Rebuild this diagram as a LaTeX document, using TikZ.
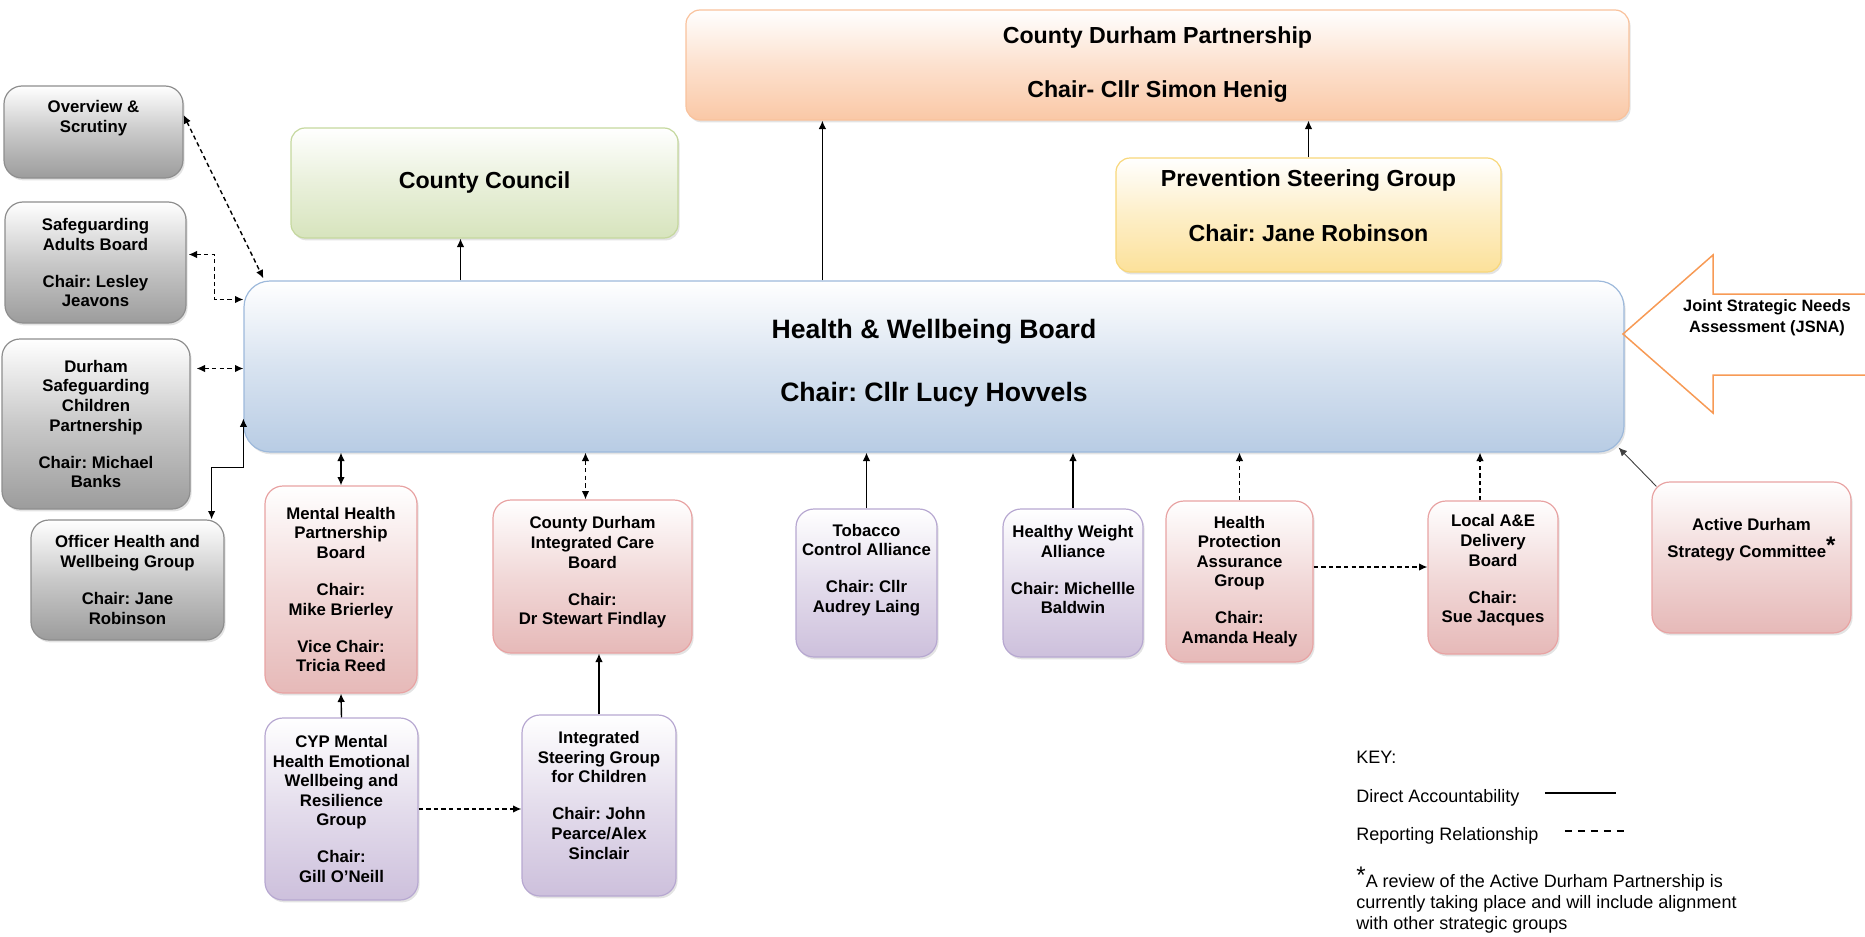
\documentclass[tikz,border=0pt]{standalone}
\usepackage{fontspec}
\setmainfont{Liberation Sans}
\frenchspacing
\usetikzlibrary{calc,arrows.meta,shadows}

\definecolor{greyline}{HTML}{8E8E8E}
\definecolor{greybot}{HTML}{9C9C9C}
\definecolor{pinkline}{HTML}{E8A3A3}
\definecolor{pinkbot}{HTML}{E6B9B8}
\definecolor{lilacline}{HTML}{B7A8D1}
\definecolor{lilacbot}{HTML}{CDC0DC}
\definecolor{blueline}{HTML}{9DB9DB}
\definecolor{bluebot}{HTML}{B8CCE4}
\definecolor{greenline}{HTML}{C5D89E}
\definecolor{greenbot}{HTML}{D7E4BD}
\definecolor{orangeline}{HTML}{F9C29C}
\definecolor{orangebot}{HTML}{FAC8A6}
\definecolor{yellowline}{HTML}{F8D77A}
\definecolor{yellowbot}{HTML}{FCE19A}
\definecolor{jsnaorange}{HTML}{F79A55}

\newcommand{\nl}{\\[8.7pt]}
\newcommand{\smallbold}{\fontsize{8.4}{9.8}\selectfont\bfseries}
\newcommand{\bigbold}{\fontsize{11.6}{14}\selectfont\bfseries}
\newcommand{\keytext}{\fontsize{9}{10.5}\selectfont}

\tikzset{
  box/.style={draw, line width=.6pt, rounded corners=9pt, align=center, inner sep=2pt,
    font=\smallbold, drop shadow={shadow xshift=.8pt, shadow yshift=-1.2pt, opacity=.22}},
  greybox/.style={box, draw=greyline, top color=white, bottom color=greybot, middle color=greybot!55!white},
  pinkbox/.style={box, draw=pinkline, top color=white, bottom color=pinkbot, middle color=pinkbot!55!white},
  lilacbox/.style={box, draw=lilacline, top color=white, bottom color=lilacbot, middle color=lilacbot!55!white},
  bluebox/.style={box, draw=blueline, top color=white, bottom color=bluebot, middle color=bluebot!55!white},
  greenbox/.style={box, draw=greenline, top color=white, bottom color=greenbot, middle color=greenbot!55!white},
  orangebox/.style={box, draw=orangeline, top color=white, bottom color=orangebot, middle color=orangebot!55!white},
  yellowbox/.style={box, draw=yellowline, top color=white, bottom color=yellowbot, middle color=yellowbot!55!white},
  lift/.style={text depth=#1},
  direct/.style={line width=.7pt, >={Latex[length=4.2pt,width=3.8pt]}},
  report/.style={direct, dash pattern=on 2.2pt off 1.6pt},
}

\begin{document}
\begin{tikzpicture}[x=0.5pt, y=-0.5pt]
\useasboundingbox (0,0) rectangle (1865,937);

% top row
\node (cdp) at (1157.5,65) [orangebox, minimum width=471.5pt, minimum height=55pt, rounded corners=7pt, font=\bigbold] {County Durham Partnership\\[13pt]Chair- Cllr Simon Henig};
\node (cc) at (484.5,183) [greenbox, minimum width=193.5pt, minimum height=55pt, rounded corners=7pt, font=\bigbold] {County Council};
\node (psg) at (1308.5,215) [yellowbox, minimum width=192.5pt, minimum height=57pt, rounded corners=7pt, font=\bigbold, lift=9.2pt] {Prevention Steering Group\\[13.5pt]Chair: Jane Robinson};

% the board
\node (hwb) at (934,366.5) [bluebox, minimum width=690pt, minimum height=85.5pt, rounded corners=13pt, font=\fontsize{13.3}{16}\selectfont\bfseries, lift=6.2pt] {Health \& Wellbeing Board\\[15.5pt]Chair: Cllr Lucy Hovvels};

% left column
\node (ovs) at (93.5,132) [greybox, minimum width=89.5pt, minimum height=46pt, lift=15.4pt] {Overview \&\\Scrutiny};
\node (sab) at (95.5,262.5) [greybox, minimum width=90.5pt, minimum height=60.5pt] {Safeguarding\\Adults Board\nl Chair: Lesley\\Jeavons};
\node (dscp) at (96,424) [greybox, minimum width=94pt, minimum height=85pt] {Durham\\Safeguarding\\Children\\Partnership\nl Chair: Michael\\Banks};
\node (ohwg) at (127.5,580) [greybox, minimum width=96.5pt, minimum height=60pt] {Officer Health and\\Wellbeing Group\nl Chair: Jane\\Robinson};

% groups below the board
\node (mhpb) at (341,589.5) [pinkbox, minimum width=76pt, minimum height=103.5pt] {Mental Health\\Partnership\\Board\nl Chair:\\Mike Brierley\nl Vice Chair:\\Tricia Reed};
\node (icb) at (592.5,576.5) [pinkbox, minimum width=99.5pt, minimum height=76.5pt, lift=5.8pt] {County Durham\\Integrated Care\\Board\nl Chair:\\Dr Stewart Findlay};
\node (tca) at (866.5,583) [lilacbox, minimum width=70.5pt, minimum height=74pt, lift=14.8pt] {Tobacco\\Control Alliance\nl Chair: Cllr\\Audrey Laing};
\node (hwa) at (1073,583) [lilacbox, minimum width=70pt, minimum height=74pt, lift=13.2pt] {Healthy Weight\\Alliance\nl Chair: Michellle\\Baldwin};
\node (hpag) at (1239.5,581.5) [pinkbox, minimum width=73.5pt, minimum height=80.5pt] {Health\\Protection\\Assurance\\Group\nl Chair:\\Amanda Healy};
\node (ae) at (1493,577.5) [pinkbox, minimum width=65pt, minimum height=76.5pt, lift=8.8pt] {Local A\&E\\Delivery\\Board\nl Chair:\\Sue Jacques};
\node (adsc) at (1751.5,557.5) [pinkbox, minimum width=99.5pt, minimum height=75.5pt, lift=19.4pt] {Active Durham\\[2.3pt]Strategy Committee\raisebox{.45ex}{\large*}};

% children's groups
\node (cyp) at (341.5,809) [lilacbox, minimum width=76.5pt, minimum height=91pt] {CYP Mental\\Health Emotional\\Wellbeing and\\Resilience\\Group\nl Chair:\\Gill O’Neill};
\node (isg) at (599,805.5) [lilacbox, minimum width=77pt, minimum height=90.5pt, lift=10.2pt] {Integrated\\Steering Group\\for Children\nl Chair: John\\Pearce/Alex\\Sinclair};

% JSNA arrow
\draw[jsnaorange, line width=.75pt] (1870,294) -- (1713,294) -- (1713,255) -- (1623,334) -- (1713,413) -- (1713,375) -- (1870,375);
\node (jsna) at (1767,318) [font=\fontsize{8.2}{10.5}\selectfont\bfseries, align=center] {Joint Strategic Needs\\Assessment (JSNA)};

% connectors
\coordinate (ccin) at ($(cc.south)+(-24,0)$);
\coordinate (cdpin) at ($(cdp.south west)+(137,0)$);
\coordinate (icbin) at ($(icb.north)+(-7,0)$);
\coordinate (aeout) at ($(ae.north)+(-13,0)$);

\draw[direct,->] (hwb.north -| ccin) -- (ccin);
\draw[direct,->] (hwb.north -| cdpin) -- (cdpin);
\draw[direct,->] (psg.north) -- (psg.north |- cdp.south);

\draw[report,<->] ($(ovs.east)+(0,-17)$) -- ($(hwb.north west)+(20,-2)$);
\draw[report,<->] ($(sab.east)+(2,-8)$) -| ++(26,45) -- ($(hwb.west)+(0,-67)$);
\draw[report,<->] ($(dscp.east |- hwb.west)+(6,2)$) -- ($(hwb.west)+(0,2)$);
\draw[direct,<->] ($(hwb.west)+(0,52)$) -- ++(0,49) -| ($(ohwg.north east)+(-13,0)$);

\draw[direct,<->] (hwb.south -| mhpb.north) -- (mhpb.north);
\draw[report,<->] (hwb.south -| icbin) -- (icbin);
\draw[direct,->] (tca.north) -- (tca.north |- hwb.south);
\draw[direct,->] (hwa.north) -- (hwa.north |- hwb.south);
\draw[report,->] (hpag.north) -- (hpag.north |- hwb.south);
\draw[report,->] (aeout) -- (hwb.south -| aeout);
\draw[report,->] ($(hpag.east)+(0,-14.5)$) -- ($(ae.west)+(0,-10.5)$);
\draw[direct,->,line width=.45pt,black!75] ($(adsc.north west)+(5,5)$) -- ($(hwb.south east)+(-6,-5)$);

\draw[direct,->] (cyp.north) -- (mhpb.south);
\draw[direct,->] (isg.north) -- (isg.north |- icb.south);
\draw[report,->] (cyp.east) -- (cyp.east -| isg.west);

% key
\node (key) at (1356,763) [anchor=base west, inner sep=0pt, font=\keytext] {KEY:};
\node (kda) at (1356,802.5) [anchor=base west, inner sep=0pt, font=\keytext] {Direct Accountability};
\node (krr) at (1356,840.5) [anchor=base west, inner sep=0pt, font=\keytext] {Reporting Relationship};
\draw[line width=.7pt] ($(kda.base east)+(25,-9.5)$) -- ($(kda.base east)+(96,-9.5)$);
\draw[line width=.7pt, dash pattern=on 3.5pt off 3pt] ($(krr.base east)+(26,-9.5)$) -- ($(krr.base east)+(86,-9.5)$);
\node (note) at (1356,900.4) [anchor=west, inner sep=0pt, align=left, font=\keytext] {\raisebox{.4ex}{\large*}A review of the Active Durham Partnership is\\currently taking place and will include alignment\\with other strategic groups};

\end{tikzpicture}
\end{document}
